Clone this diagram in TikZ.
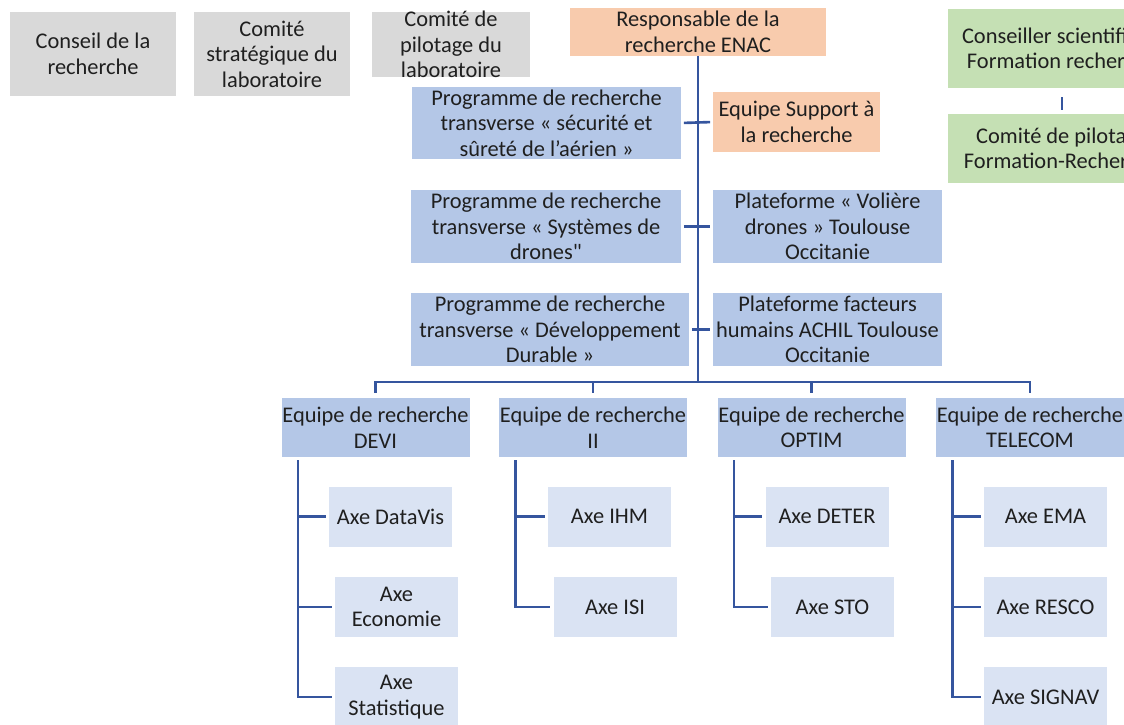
\documentclass[tikz,border=0pt]{standalone}
\usepackage{fontspec}
\setmainfont{Carlito}
\definecolor{grisbox}{HTML}{D9D9D9}
\definecolor{orangebox}{HTML}{F8CBAD}
\definecolor{bleubox}{HTML}{B4C7E7}
\definecolor{bleuclair}{HTML}{DAE3F3}
\definecolor{vertbox}{HTML}{C5E0B4}
\definecolor{lienbleu}{HTML}{35559E}
\newcommand\guilldroit{{\addfontfeature{Ligatures=TeXOff}"}}
\tikzset{
  boite/.style={rectangle, align=center, inner sep=0pt, text=black!88,
    font=\fontsize{12.75}{14.5}\selectfont},
  taille/.style 2 args={minimum width=#1*0.02cm, minimum height=#2*0.02cm},
  lien/.style={draw=lienbleu, line width=1.5pt},
  trait/.style={lien, shorten >=0.06cm},
}
\begin{document}
\begin{tikzpicture}[x=0.02cm,y=-0.02cm]
\useasboundingbox (0,0) rectangle (1124,724);
\clip (0,0) rectangle (1124,724);
% instances (gris)
\node[boite, fill=grisbox, taille={166}{84}] (conseil) at (93,54) {Conseil de la\\recherche};
\node[boite, fill=grisbox, taille={156}{84}] (costrat) at (272,54) {Comité\\stratégique du\\laboratoire};
\node[boite, fill=grisbox, taille={158}{65}, inner ysep=-0.1cm] (copil) at (451,44.5) {Comité de\\pilotage du\\laboratoire};
% direction
\node[boite, fill=orangebox, taille={256}{48}] (resp) at (698,32) {Responsable de la\\recherche ENAC};
\node[boite, fill=orangebox, taille={167}{60}] (support) at (796.5,122) {Equipe Support à\\la recherche};
% programmes et plateformes
\node[boite, fill=bleubox, taille={269}{72}] (prog1) at (546.5,123) {Programme de recherche\\transverse « sécurité et\\sûreté de l’aérien »};
\node[boite, fill=bleubox, taille={270}{73}] (prog2) at (546,226.5) {Programme de recherche\\transverse « Systèmes de\\drones\guilldroit};
\node[boite, fill=bleubox, taille={278}{73}] (prog3) at (550,329.5) {Programme de recherche\\transverse « Développement\\Durable »};
\node[boite, fill=bleubox, taille={229}{73}] (voliere) at (827.5,226.5) {Plateforme « Volière\\drones » Toulouse\\Occitanie};
\node[boite, fill=bleubox, taille={229}{73}] (achil) at (827.5,329.5) {Plateforme facteurs\\humains ACHIL Toulouse\\Occitanie};
% formation (vert)
\node[boite, fill=vertbox, taille={228}{79}] (cons) at (1062,48.5) {Conseiller scientifique\\Formation recherche};
\node[boite, fill=vertbox, taille={228}{69}] (copilfr) at (1062,148.5) {Comité de pilotage\\Formation-Recherche};
% equipes
\foreach \e/\x/\nom in {devi/375.5/DEVI, ii/593/II, optim/811.5/OPTIM, telecom/1030/TELECOM}
  \node[boite, fill=bleubox, taille={188}{59}] (\e) at (\x,427.5) {Equipe de recherche\\\nom};
% axes
\foreach \a/\x/\y/\txt in {datavis/390.5/516.5/Axe DataVis, economie/396.5/607/Axe\\Economie,
    statistique/396.5/697/Axe\\Statistique, ihm/609.5/516.5/Axe IHM, isi/615/607/Axe ISI,
    deter/827/516.5/Axe DETER, sto/832.5/607/Axe STO, ema/1045.5/516.5/Axe EMA,
    resco/1045.5/607/Axe RESCO, signav/1045.5/697/Axe SIGNAV}
  \node[boite, fill=bleuclair, taille={123}{60}] (\a) at (\x,\y) {\txt};
% liens
\coordinate (hub) at (resp.south |- 0,382);
\draw[lien] (resp.south) -- (hub);
\draw[lien, shorten <=0.1cm, shorten >=0.1cm] (devi.north) |- (hub) -| (telecom.north);
\foreach \e in {ii,optim}
  \draw[lien, shorten <=0.1cm] (\e.north) -- (\e.north |- hub);
\foreach \g/\d in {prog1/support, prog2/voliere, prog3/achil}
  \draw[lien, shorten <=0.05cm, shorten >=0.05cm] (\g.east) -- (\d.west);
\draw[lien, shorten <=0.18cm, shorten >=0.08cm] (cons.south) -- (copilfr.north);
\foreach \e in {devi,ii,optim,telecom}
  \coordinate (\e-rail) at ([xshift=0.34cm,yshift=-0.06cm]\e.south west);
\foreach \e/\ax in {devi/statistique, ii/isi, optim/sto, telecom/signav}
  \draw[trait] (\e-rail) |- (\ax.west);
\foreach \e/\ax in {devi/datavis, devi/economie, ii/ihm, optim/deter, telecom/ema, telecom/resco}
  \draw[trait] (\e-rail |- \ax.west) -- (\ax.west);
\end{tikzpicture}
\end{document}
